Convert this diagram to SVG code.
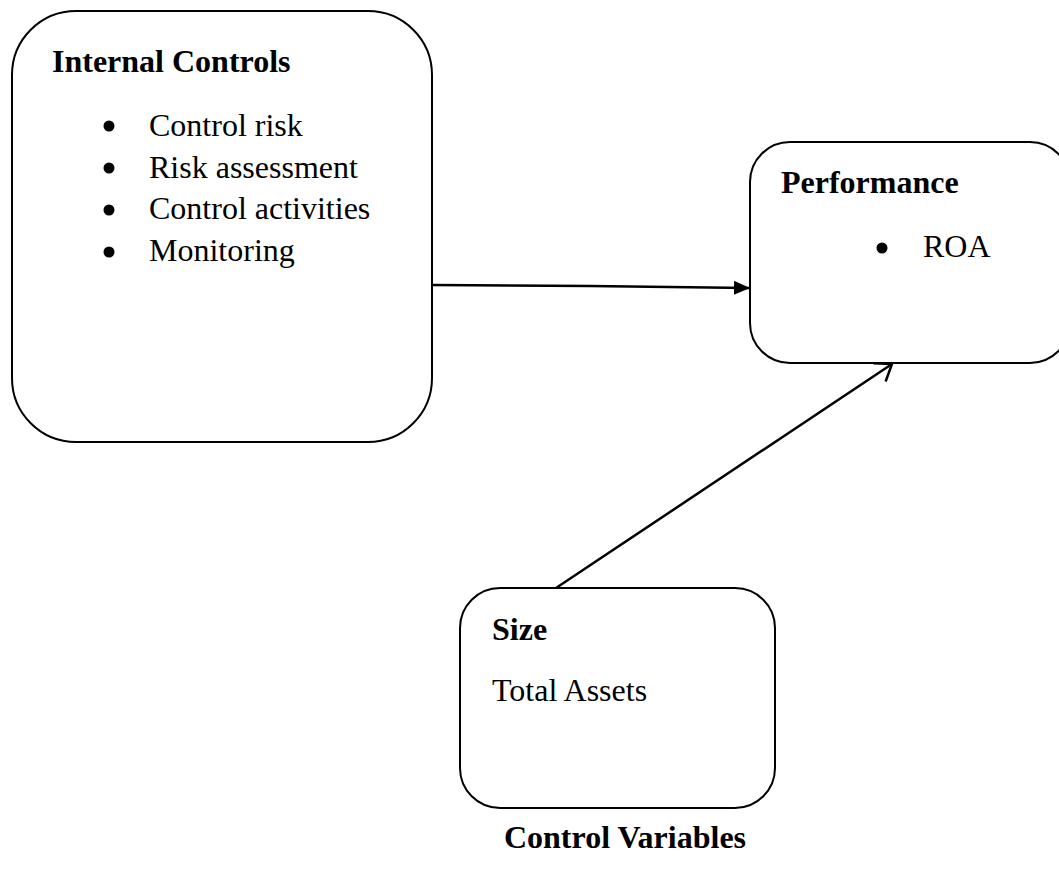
<svg xmlns="http://www.w3.org/2000/svg" width="1059" height="880" viewBox="0 0 1059 880">
<style>
.box{fill:#fff;stroke:#000;stroke-width:2}
.t{font-family:"Liberation Serif","Times New Roman",serif;font-size:32px;fill:#000}
.b{font-weight:bold}
.edge{fill:none;stroke:#000;stroke-width:2.5}
</style>
<defs>
<marker id="filled" markerWidth="16" markerHeight="14" refX="15" refY="7" orient="auto" markerUnits="userSpaceOnUse">
<path d="M0,0 L16,7 L0,14 Z" fill="#000"/>
</marker>
<marker id="open" markerWidth="20" markerHeight="24" refX="18" refY="12" orient="auto" markerUnits="userSpaceOnUse">
<path d="M3,1 L18,12 L3,23" fill="none" stroke="#000" stroke-width="2.5"/>
</marker>
</defs>
<rect width="1059" height="880" fill="#fff"/>
<g id="internal-controls">
<rect class="box" x="12" y="11" width="420" height="431" rx="64" ry="64"/>
<text class="t b" x="52" y="72">Internal Controls</text>
<circle cx="109" cy="126" r="5.5"/><text class="t" x="149" y="136">Control risk</text>
<circle cx="109" cy="168" r="5.5"/><text class="t" x="149" y="178">Risk assessment</text>
<circle cx="109" cy="210" r="5.5"/><text class="t" x="149" y="219">Control activities</text>
<circle cx="109" cy="252" r="5.5"/><text class="t" x="149" y="261">Monitoring</text>
</g>
<g id="performance">
<rect class="box" x="750" y="142" width="320" height="221" rx="40" ry="40"/>
<text class="t b" x="781" y="193">Performance</text>
<circle cx="882" cy="248" r="5.5"/><text class="t" x="923" y="257">ROA</text>
</g>
<g id="size">
<rect class="box" x="460" y="588" width="315" height="220" rx="40" ry="40"/>
<text class="t b" x="492" y="640">Size</text>
<text class="t" x="492" y="701">Total Assets</text>
</g>
<g id="control-variables">
<text class="t b" x="625" y="848" text-anchor="middle">Control Variables</text>
</g>
<g id="connectors">
<path class="edge" d="M432,285 L590,286 L749,288" marker-end="url(#filled)"/>
<path class="edge" d="M556,588 L892,364" marker-end="url(#open)"/>
</g>
</svg>
